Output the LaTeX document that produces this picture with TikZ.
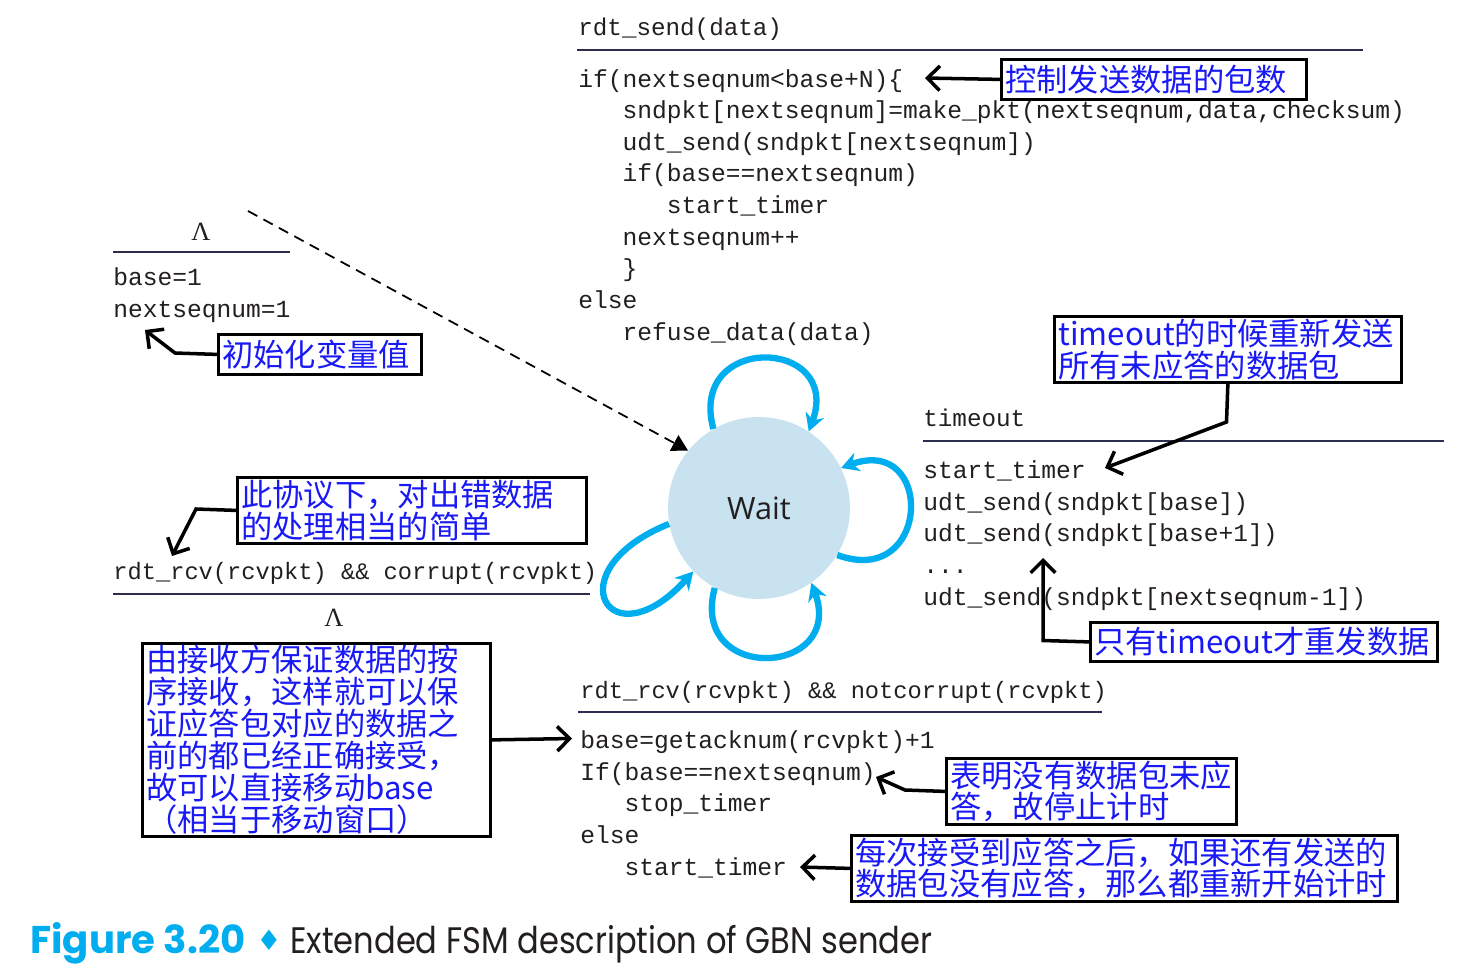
\documentclass[tikz,border=0pt]{standalone}
\usepackage{fontspec}
\setmonofont{Liberation Mono}
\newfontfamily\cjk{Noto Sans CJK SC}
\newfontfamily\waitfont{Open Sans}
\newfontfamily\capbold{Poppins}
\newfontfamily\captitle[FakeStretch=0.87]{Poppins}
\newfontfamily\symfont{DejaVu Sans}
\newfontfamily\lamfont{Liberation Serif}
\usetikzlibrary{arrows.meta}

\definecolor{loopblue}{RGB}{0,174,239}
\definecolor{statefill}{RGB}{200,226,240}
\definecolor{notetext}{RGB}{25,25,245}
\definecolor{codetext}{RGB}{35,31,32}
\definecolor{rulecol}{RGB}{45,45,80}

\newcommand{\ind}{\hspace*{1.8em}}

\tikzset{
  code/.style={anchor=base west, inner sep=0pt, align=left, text=codetext,
    font=\ttfamily\fontsize{14}{18}\selectfont},
  event/.style={code, font=\ttfamily\fontsize{13.5}{18}\selectfont},
  lam/.style={inner sep=0pt, text=codetext, font=\lamfont\fontsize{15}{16}\selectfont},
  note/.style={draw, line width=1.6pt, anchor=north west, inner xsep=0.08cm, inner ysep=0pt,
    align=left, text=notetext, font=\cjk\fontsize{17.8}{18.2}\selectfont},
  rule/.style={draw=rulecol, line width=1.2pt},
  pointer/.style={draw, line width=2pt, -{Straight Barb[length=7pt,width=14pt]}},
  selfloop/.style={draw=loopblue, line width=3.6pt, -{Stealth[length=10pt,width=11pt]}},
}

\begin{document}
\begin{tikzpicture}[x=0.02cm,y=-0.02cm]
  \useasboundingbox[fill=white] (0,0) rectangle (1467,964);

  % % State
  \node[circle, fill=statefill, minimum size=3.64cm, inner sep=0pt, text=codetext,
    font=\waitfont\fontsize{17.5}{18}\selectfont] (wait) at (759,508) {Wait};
  \draw[selfloop] (wait.120) to[out=105,in=70,distance=2cm] (wait.57);
  \draw[selfloop] (wait.-31) to[out=-20,in=20,distance=2cm] (wait.26);
  \draw[selfloop] (wait.-119) to[out=-105,in=-70,distance=2cm] (wait.-55);
  \draw[selfloop] (wait.190) to[out=202,in=228,distance=2.5cm] (wait.224);

  % % Initial transition
  \node[lam] (initlam) at (201,232) {Λ};
  \draw[rule] (113,252) -- (290,252);
  \node[code] (initcode) at (113,317) {base=1\\nextseqnum=1};
  \coordinate (dashstart) at (248,211);
  \draw[line width=1pt, dash pattern=on 6pt off 4pt, -{Triangle[length=9pt,width=10pt]}]
    (dashstart) -- (wait.141);
  \node[note, text width=3.9cm, minimum height=0.8cm] (initnote) at (217,333) {初始化变量值};
  \coordinate (initbend) at (175,353);
  \coordinate (initpt) at (145,330);
  \draw[pointer] (initnote.west) -- (initbend) -- (initpt);

  % % rdt_send
  \node[event, font=\ttfamily\fontsize{13.8}{18}\selectfont] (sendev) at (578,35) {rdt\_send(data)};
  \draw[rule] (577,50) -- (1363,50);
  \node[code] (sendcode) at (578,340) {if(nextseqnum<base+N)\{\\
    \ind sndpkt[nextseqnum]=make\_pkt(nextseqnum,data,checksum)\\
    \ind udt\_send(sndpkt[nextseqnum])\\
    \ind if(base==nextseqnum)\\
    \ind\ind start\_timer\\
    \ind nextseqnum++\\
    \ind \}\\
    else\\
    \ind refuse\_data(data)};
  \node[note, text width=5.94cm, minimum height=0.8cm] (ctrlnote) at (1000,58) {控制发送数据的包数};
  \coordinate (ctrlpt) at (925,78);
  \draw[pointer] (ctrlnote.west) -- (ctrlpt);

  % % timeout
  \node[event, font=\ttfamily\fontsize{13.8}{18}\selectfont] (tmoev) at (923,426) {timeout};
  \draw[rule] (923,441) -- (1444,441);
  \node[code] (tmocode) at (923,605) {start\_timer\\
    udt\_send(sndpkt[base])\\
    udt\_send(sndpkt[base+1])\\
    ...\\
    udt\_send(sndpkt[nextseqnum-1])};
  \node[note, text width=6.78cm, minimum height=1.32cm] (tmonote) at (1053,315)
    {timeout的时候重新发送\\所有未应答的数据包};
  \coordinate (tmobend) at (1226.5,422);
  \coordinate (tmopt) at (1105,468);
  \draw[pointer] (tmonote.south) -- (tmobend) -- (tmopt);
  \node[note, text width=6.78cm, minimum height=0.78cm] (onlynote) at (1089,621) {只有timeout才重发数据};
  \coordinate (onlybend) at (1043,640.5);
  \coordinate (onlypt) at (1043,558);
  \draw[pointer] (onlynote.west) -- (onlybend) -- (onlypt);

  % % corrupt ack
  \node[event] (errev) at (113,579) {rdt\_rcv(rcvpkt) \&\& corrupt(rcvpkt)};
  \draw[rule] (113,594) -- (590,594);
  \node[lam] (errlam) at (334,618) {Λ};
  \node[note, text width=6.82cm, minimum height=1.32cm] (errnote) at (236,476)
    {此协议下，对出错数据\\的处理相当的简单};
  \coordinate (errbend) at (196,509);
  \coordinate (errpt) at (172,556);
  \draw[pointer] (errnote.west) -- (errbend) -- (errpt);

  % % good ack
  \node[event] (ackev) at (580,698) {rdt\_rcv(rcvpkt) \&\& notcorrupt(rcvpkt)};
  \draw[rule] (578,712) -- (1102,712);
  \node[code] (ackcode) at (580,875) {base=getacknum(rcvpkt)+1\\
    If(base==nextseqnum)\\
    \ind stop\_timer\\
    else\\
    \ind start\_timer};
  \node[note, text width=6.8cm, minimum height=3.86cm] (ordernote) at (141,642)
    {由接收方保证数据的按\\序接收，这样就可以保\\证应答包对应的数据之\\前的都已经正确接受，\\故可以直接移动base\\（相当于移动窗口）};
  \coordinate (orderpt) at (572,738.5);
  \draw[pointer] (ordernote.east) -- (orderpt);
  \node[note, text width=5.64cm, minimum height=1.32cm] (stopnote) at (945,757)
    {表明没有数据包未应\\答，故停止计时};
  \coordinate (stopbend) at (905,790);
  \coordinate (stoppt) at (876,777);
  \draw[pointer] (stopnote.west) -- (stopbend) -- (stoppt);
  \node[note, text width=10.76cm, minimum height=1.32cm] (restartnote) at (850,834)
    {每次接受到应答之后，如果还有发送的\\数据包没有应答，那么都重新开始计时};
  \coordinate (restartpt) at (800,867);
  \draw[pointer] (restartnote.west) -- (restartpt);

  % Caption
  \node[anchor=base west, inner sep=0pt, text=loopblue,
    font=\capbold\bfseries\fontsize{22}{24}\selectfont] (figno) at (30,953) {Figure 3.20};
  \node[anchor=base west, inner sep=0pt, text=loopblue,
    font=\symfont\fontsize{16}{18}\selectfont] (figdot) at (256,950) {♦};
  \node[anchor=base west, inner sep=0pt, text=codetext,
    font=\captitle\fontsize{21}{24}\selectfont] (figtitle) at (290,953) {Extended FSM description of GBN sender};
\end{tikzpicture}
\end{document}
